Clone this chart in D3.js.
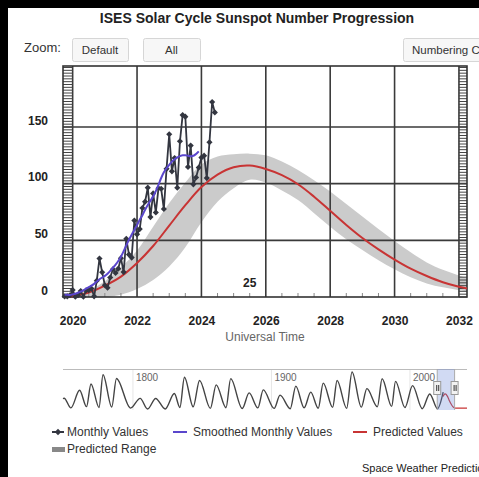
<!DOCTYPE html>
<html><head><meta charset="utf-8">
<script src="https://cdn.jsdelivr.net/npm/d3@7"></script>
<style>
html,body{margin:0;padding:0;background:#000;}
svg{display:block;font-family:"Liberation Sans",Arial,sans-serif;}
</style></head><body>
<svg id="c" width="479" height="477"></svg>
<script>
// ---------- data ----------
const tickYears = [2020, 2022, 2024, 2026, 2028, 2030, 2032];
const yTicks = [0, 50, 100, 150];
const monthlyStart = 2019.75; // Oct 2019
const monthlyValues = [0.4, 0.5, 1.5,
  6.2, 0.2, 1.5, 5.2, 0.2, 5.8, 6.1, 7.5, 0.6, 14.4, 34.0, 21.8,
  10.4, 8.2, 17.2, 24.5, 21.2, 25.0, 34.3, 22.0, 51.3, 37.4, 34.8, 67.5,
  55.3, 59.9, 78.5, 84.1, 96.5, 70.5, 91.4, 74.6, 96.0, 95.5, 77.6, 113.1,
  143.6, 110.9, 122.6, 96.4, 137.4, 160.5, 159.1, 114.8, 133.6, 99.4, 105.4, 114.2,
  123.0, 124.7, 104.9, 136.5, 172.1, 162.9];
const smoothedStart = 2019.75;
const smoothedValues = [2.0, 1.9, 1.8,
  2.3, 2.9, 3.7, 4.7, 5.9, 7.3, 8.7, 10.0, 11.6, 13.6, 15.6, 17.2,
  18.6, 20.6, 23.0, 25.8, 28.6, 31.8, 35.6, 40.4, 45.6, 50.6, 55.0, 59.2,
  63.4, 68.2, 72.2, 77.0, 81.2, 85.0, 88.6, 93.4, 99.0, 105.0, 110.0, 113.6,
  116.5, 119.5, 121.5, 123.2, 124.3, 125.0, 125.0, 124.6, 124.2, 124.6, 126.2, 128.5];
const predYears = [2019.92, 2020.5, 2021.0, 2021.5, 2022.0, 2022.5, 2023.0, 2023.5, 2024.0, 2024.5,
  2025.0, 2025.5, 2026.0, 2026.5, 2027.0, 2027.5, 2028.0, 2028.5, 2029.0, 2029.5,
  2030.0, 2030.5, 2031.0, 2031.5, 2032.0, 2032.25];
const predValues = [0.5, 4, 10, 18, 30, 45, 63, 81, 97, 108,
  114.5, 116, 113, 107.5, 99.5, 88.5, 76, 63.5, 52, 42,
  33, 25, 18.5, 13, 9, 7.5];
const predHigh = [1, 6, 14, 26, 41, 62, 83, 101, 117, 124,
  126, 126.5, 125, 119.5, 112, 103, 93, 82, 71, 60,
  49.5, 39.5, 30.5, 24, 19, 17];
const predLow = [0, 0, 0, 2, 7, 15, 27, 44, 66, 84,
  96, 103.5, 101, 94, 85.5, 74, 62, 51, 41.5, 32.5,
  24.5, 17.5, 12, 8.5, 6, 5];
const cycleLabel = "25";
// navigator (historical smoothed extremes)
const navYears = [1749.5, 1750.3, 1755.2, 1761.5, 1766.5, 1769.7, 1775.5, 1778.4, 1784.7, 1788.1,
  1798.3, 1805.2, 1810.6, 1816.4, 1823.3, 1829.9, 1833.9, 1837.2, 1843.5, 1848.1,
  1855.9, 1860.1, 1867.2, 1870.6, 1878.9, 1883.9, 1890.2, 1894.1, 1902.0, 1906.2,
  1913.6, 1917.6, 1923.6, 1928.4, 1933.8, 1937.4, 1944.2, 1947.4, 1954.3, 1958.2,
  1964.9, 1968.9, 1976.5, 1979.9, 1986.8, 1989.6, 1996.4, 2001.9, 2008.9, 2014.3,
  2019.9, 2024.0];
const navValues = [80, 83, 8.4, 144, 18, 193, 12, 264, 15, 235,
  6.8, 82, 0, 81, 0.2, 119, 12, 245, 17, 220,
  5, 186, 10, 234, 3.7, 124, 8.3, 147, 4.5, 107,
  2.5, 176, 9.4, 130, 5.8, 199, 12.9, 219, 5.1, 285,
  14.3, 157, 17.8, 233, 20.3, 213, 11.2, 180, 2.2, 116,
  1.8, 130];
const navTailYears = [2034, 2037, 2041.2];
const navTailValues = [6, 6, 6];
const navLabels = [1800, 1900, 2000];
const legendItems = ["Monthly Values", "Smoothed Monthly Values", "Predicted Values", "Predicted Range"];

// ---------- drawing ----------
const svg = d3.select("#c");
svg.append("rect").attr("width", 479).attr("height", 477).attr("fill", "#000");
svg.append("rect").attr("x", 8).attr("y", 8).attr("width", 471).attr("height", 469).attr("fill", "#fff");

const L = 63, R = 467, T = 66, B = 297;
const x = d3.scaleLinear().domain([2019.7, 2032.25]).range([L, R]);
const y = d3.scaleLinear().domain([0, 150]).range([B, 127]);
const yTop = y.invert(T);
const smoothCurve = d3.curveCatmullRom.alpha(0.5);

// title & buttons
svg.append("text").attr("x", 257).attr("y", 23).attr("text-anchor", "middle")
  .attr("font-size", 14).attr("font-weight", "bold").attr("fill", "#222")
  .text("ISES Solar Cycle Sunspot Number Progression");
svg.append("text").attr("x", 24).attr("y", 52).attr("font-size", 13).attr("fill", "#333").text("Zoom:");
const buttons = [{t: "Default", x0: 72, x1: 128}, {t: "All", x0: 143, x1: 200}, {t: "Numbering Conventions", x0: 403, x1: 520}];
buttons.forEach(b => {
  svg.append("rect").attr("x", b.x0 + 0.5).attr("y", 38.5).attr("width", b.x1 - b.x0).attr("height", 23)
    .attr("rx", 2).attr("fill", "#f7f7f7").attr("stroke", "#d6d6d6");
  const t = svg.append("text").attr("y", 54).attr("font-size", 11.5).attr("fill", "#333").text(b.t);
  if (b.t === "Numbering Conventions") t.attr("x", 412);
  else t.attr("x", (b.x0 + b.x1) / 2).attr("text-anchor", "middle");
});

const g = svg.append("g");
// predicted range
const bandData = predYears.map((t, i) => ({t, hi: predHigh[i], lo: predLow[i], v: predValues[i]}));
g.append("path").datum(bandData)
  .attr("d", d3.area().x(d => x(d.t)).y0(d => y(d.lo)).y1(d => y(d.hi)).curve(smoothCurve))
  .attr("fill", "#cbcbcb");

// grid
g.selectAll(".hg").data([50, 100, 150]).join("line")
  .attr("x1", L).attr("x2", R).attr("y1", d => y(d)).attr("y2", d => y(d))
  .attr("stroke", "#3a3a3a").attr("stroke-width", 1.6);
g.selectAll(".vg").data(tickYears).join("line")
  .attr("x1", d => x(d)).attr("x2", d => x(d)).attr("y1", T).attr("y2", B)
  .attr("stroke", "#3a3a3a").attr("stroke-width", 1.6);
// minor ticks left/right (ladder)
const yMinor = d3.range(0, yTop, 2.5);
g.selectAll(".ml").data(yMinor).join("line")
  .attr("x1", L).attr("x2", x(2020)).attr("y1", d => y(d)).attr("y2", d => y(d))
  .attr("stroke", "#444").attr("stroke-width", 1);
g.selectAll(".mr").data(yMinor).join("line")
  .attr("x1", x(2032)).attr("x2", R).attr("y1", d => y(d)).attr("y2", d => y(d))
  .attr("stroke", "#444").attr("stroke-width", 1);
// minor x ticks
const xMinor = d3.range(2020, 2032.01, 0.5).filter(v => v % 2 !== 0);
g.selectAll(".mx").data(xMinor).join("line")
  .attr("x1", d => x(d)).attr("x2", d => x(d)).attr("y1", B).attr("y2", B - 4)
  .attr("stroke", "#888").attr("stroke-width", 1);

// border
g.append("rect").attr("x", L).attr("y", T).attr("width", R - L).attr("height", B - T)
  .attr("fill", "none").attr("stroke", "#333").attr("stroke-width", 1.6);

// predicted line
g.append("path").datum(bandData)
  .attr("d", d3.line().x(d => x(d.t)).y(d => y(d.v)).curve(smoothCurve))
  .attr("fill", "none").attr("stroke", "#c83434").attr("stroke-width", 2);

// monthly
const monthly = monthlyValues.map((v, i) => ({t: monthlyStart + i / 12, v}));
g.append("path").datum(monthly)
  .attr("d", d3.line().x(d => x(d.t)).y(d => y(d.v)))
  .attr("fill", "none").attr("stroke", "#333640").attr("stroke-width", 1.8);
g.selectAll(".mk").data(monthly).join("path")
  .attr("transform", d => `translate(${x(d.t)},${y(d.v)})`)
  .attr("d", d3.symbol(d3.symbolDiamond2, 24))
  .attr("fill", "#333640");

// smoothed
const smoothed = smoothedValues.map((v, i) => ({t: smoothedStart + i / 12, v}));
g.append("path").datum(smoothed)
  .attr("d", d3.line().x(d => x(d.t)).y(d => y(d.v)).curve(d3.curveMonotoneX))
  .attr("fill", "none").attr("stroke", "#5a46cc").attr("stroke-width", 2);

// cycle label
g.append("text").attr("x", x(2025.5)).attr("y", 287).attr("text-anchor", "middle")
  .attr("font-size", 12).attr("font-weight", "bold").attr("fill", "#222").text(cycleLabel);

// axes
const xa = svg.append("g").attr("transform", `translate(0,${B})`)
  .call(d3.axisBottom(x).tickValues(tickYears).tickFormat(d3.format("d")).tickSize(0).tickPadding(19));
xa.select(".domain").remove();
xa.selectAll("text").attr("font-size", 12).attr("font-weight", "bold").attr("fill", "#222")
  .attr("font-family", "Liberation Sans, Arial, sans-serif");
const ya = svg.append("g").attr("transform", `translate(${L},0)`)
  .call(d3.axisLeft(y).tickValues(yTicks).tickSize(0).tickPadding(15));
ya.select(".domain").remove();
ya.selectAll("text").attr("font-size", 12).attr("font-weight", "bold").attr("fill", "#222")
  .attr("dy", "-0.25em").attr("font-family", "Liberation Sans, Arial, sans-serif");
svg.append("text").attr("x", (L + R) / 2).attr("y", 341).attr("text-anchor", "middle")
  .attr("font-size", 12).attr("fill", "#666").text("Universal Time");

// navigator
const nx = d3.scaleLinear().domain([1749.5, 2041.2]).range([L, R]);
const ny = d3.scaleLinear().domain([0, 285]).range([409, 372]);
const ng = svg.append("g");
ng.selectAll(".ngl").data(navLabels).join("line")
  .attr("x1", d => nx(d)).attr("x2", d => nx(d)).attr("y1", 369).attr("y2", 410)
  .attr("stroke", "#e6e6e6");
ng.selectAll(".ngt").data(navLabels).join("text")
  .attr("x", d => nx(d) + 3).attr("y", 381).attr("font-size", 10).attr("fill", "#666").text(d => d);
ng.append("line").attr("x1", L).attr("x2", R).attr("y1", 369.5).attr("y2", 369.5).attr("stroke", "#bbb");
const navData = navYears.map((t, i) => ({t, v: navValues[i]}));
ng.append("path").datum(navData)
  .attr("d", d3.line().x(d => nx(d.t)).y(d => ny(d.v)).curve(d3.curveMonotoneX))
  .attr("fill", "none").attr("stroke", "#444").attr("stroke-width", 1.4);
const navPred = bandData.filter(d => d.t >= 2024).map(d => ({t: d.t, v: d.v}))
  .concat(navTailYears.map((t, i) => ({t, v: navTailValues[i]})));
ng.append("path").datum(navPred)
  .attr("d", d3.line().x(d => nx(d.t)).y(d => ny(d.v)).curve(d3.curveMonotoneX))
  .attr("fill", "none").attr("stroke", "#c83434").attr("stroke-width", 1.2);
const m0 = nx(2019.7), m1 = nx(2032.25);
ng.append("rect").attr("x", m0).attr("y", 369).attr("width", m1 - m0).attr("height", 41)
  .attr("fill", "rgba(102,133,214,0.3)");
[m0, m1].forEach(hx => {
  ng.append("line").attr("x1", hx).attr("x2", hx).attr("y1", 369).attr("y2", 410).attr("stroke", "#aaa");
  ng.append("rect").attr("x", hx - 3.5).attr("y", 381.5).attr("width", 7).attr("height", 13)
    .attr("fill", "#f2f2f2").attr("stroke", "#999");
  ng.append("line").attr("x1", hx - 0.5).attr("x2", hx - 0.5).attr("y1", 385).attr("y2", 391).attr("stroke", "#333");
  ng.append("line").attr("x1", hx + 1.5).attr("x2", hx + 1.5).attr("y1", 385).attr("y2", 391).attr("stroke", "#333");
});

// legend
const lg = svg.append("g").attr("font-size", 12).attr("fill", "#333");
lg.append("line").attr("x1", 52).attr("x2", 64).attr("y1", 432).attr("y2", 432).attr("stroke", "#333640").attr("stroke-width", 2);
lg.append("path").attr("transform", "translate(58,432)").attr("d", d3.symbol(d3.symbolDiamond2, 26)).attr("fill", "#333640");
lg.append("text").attr("x", 67).attr("y", 436).text(legendItems[0]);
lg.append("line").attr("x1", 173).attr("x2", 187).attr("y1", 432).attr("y2", 432).attr("stroke", "#5a46cc").attr("stroke-width", 2);
lg.append("text").attr("x", 193).attr("y", 436).text(legendItems[1]);
lg.append("line").attr("x1", 353).attr("x2", 367).attr("y1", 432).attr("y2", 432).attr("stroke", "#c83434").attr("stroke-width", 2);
lg.append("text").attr("x", 373).attr("y", 436).text(legendItems[2]);
lg.append("rect").attr("x", 52).attr("y", 447).attr("width", 13).attr("height", 5).attr("fill", "#888");
lg.append("text").attr("x", 67).attr("y", 453).text(legendItems[3]);

svg.append("text").attr("x", 362).attr("y", 472).attr("font-size", 11).attr("fill", "#222")
  .text("Space Weather Prediction Center");
</script></body></html>
